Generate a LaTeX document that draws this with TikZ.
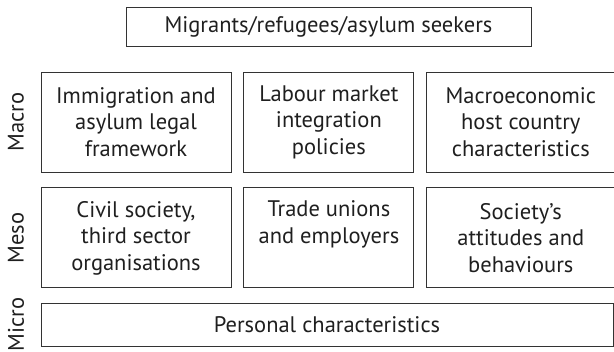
\documentclass[tikz,border=0pt]{standalone}
\usepackage{fontspec}
\setmainfont{PT Sans}
\usepackage{tikz}
\usetikzlibrary{positioning}

\begin{document}
\begin{tikzpicture}[node distance = 12pt,
    box/.style = {draw = black!80, line width = 0.9pt, align = center,
                  inner sep = 0pt, minimum height = 100pt, text = black!88,
                  font = \fontsize{22.5}{26.5}\selectfont},
    level/.style = {rotate = 90, text = black!88, font = \fontsize{22.5}{26}\selectfont}]
                        \useasboundingbox (0pt, 0pt) rectangle (614pt, 352pt);

                        % macro row
                        \node (legal) at (136pt, 230pt) [box, minimum width = 190pt] {Immigration and\\asylum legal\\framework};
                        \node (labour) [box, minimum width = 170pt, right = of legal] {Labour market\\integration\\policies};
                        \node (host) [box, minimum width = 188pt, right = of labour] {Macroeconomic\\host country\\characteristics};

                        % meso row
                        \node (civil) [box, minimum width = 190pt, below = 15pt of legal] {Civil society,\\third sector\\organisations};
                        \node (unions) [box, minimum width = 170pt, right = of civil] {Trade unions\\and employers\\\vphantom{g}};
                        \node (society) [box, minimum width = 188pt, right = of unions] {Society's\\attitudes and\\behaviours};

                        % micro row and top
                        \node (personal) at (327pt, 27.5pt) [box, minimum width = 572pt, minimum height = 43pt] {Personal characteristics};
                        \node (migrants) at (328.5pt, 325.5pt) [box, minimum width = 405pt, minimum height = 39pt] {Migrants/refugees/asylum seekers};

                        % level labels
                        \node (macro) at (16pt, 0 |- legal) [level] {Macro};
                        \node (meso) at (16pt, 0 |- civil) [level] {Meso};
                        \node (micro) at (16pt, 0 |- personal) [level] {Micro};
                    \end{tikzpicture}
\end{document}
